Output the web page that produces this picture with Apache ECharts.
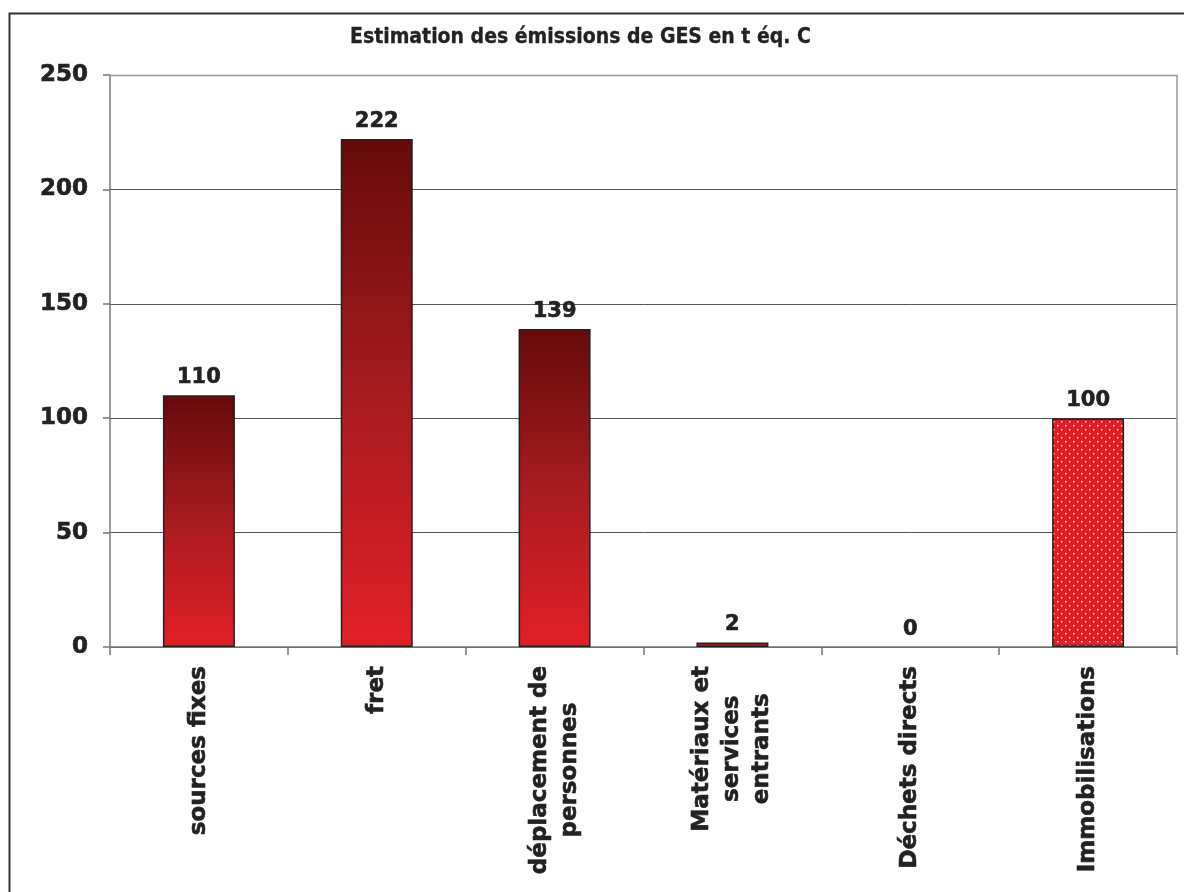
<!DOCTYPE html>
<html>
<head>
<meta charset="utf-8">
<script src="https://cdn.jsdelivr.net/npm/echarts@6/dist/echarts.min.js"></script>
<style>
  html, body { margin: 0; padding: 0; background: #fff; }
  #chart { width: 1184px; height: 892px; }
</style>
</head>
<body>
<div id="chart"></div>
<script>
// Emission categories and estimated values (t éq. C)
const categories = [
  'sources fixes',
  'fret',
  'déplacement de\npersonnes',
  'Matériaux et\nservices\nentrants',
  'Déchets directs',
  'Immobilisations'
];
const emissions = [110, 222, 139, 2, 0, 100];
const patternedCategory = 'Immobilisations';
const yTicks = [0, 50, 100, 150, 200, 250];

const titleText = 'Estimation des émissions de GES en t éq. C';
const FONT = '"DejaVu Sans", Verdana, sans-serif';
const INK = '#222';

// Dotted red fill tile
function dotPattern() {
  const c = document.createElement('canvas');
  c.width = 8; c.height = 8;
  const g = c.getContext('2d');
  g.fillStyle = '#e31e26';
  g.fillRect(0, 0, 8, 8);
  g.fillStyle = 'rgba(255,255,255,0.9)';
  g.fillRect(1, 1, 1.5, 1.5);
  g.fillRect(5, 5, 1.5, 1.5);
  return c;
}

const gradientFill = new echarts.graphic.LinearGradient(0, 0, 0, 1, [
  { offset: 0, color: '#650a0c' },
  { offset: 0.5, color: '#a71b20' },
  { offset: 1, color: '#e31f27' }
]);

const barData = emissions.map((v, i) => ({
  value: v,
  itemStyle: {
    color: categories[i] === patternedCategory
      ? { image: dotPattern(), repeat: 'repeat' }
      : gradientFill,
    borderColor: '#222',
    borderWidth: v === 0 ? 0 : 1.5
  }
}));

// heavy bold text
const heavy = { textBorderColor: INK, textBorderWidth: 0.6 };

const chart = echarts.init(document.getElementById('chart'), null, { renderer: 'canvas' });

chart.setOption({
  animation: false,
  backgroundColor: '#fff',
  title: {
    text: titleText,
    left: 345,
    top: 22,
    textStyle: {
      fontFamily: '"DejaVu Sans Condensed", "DejaVu Sans", sans-serif',
      fontWeight: 'bold',
      fontSize: 21,
      color: INK,
      textBorderColor: INK,
      textBorderWidth: 0.3
    }
  },
  grid: { left: 110, right: 7, top: 75, bottom: 245 },
  xAxis: {
    type: 'category',
    data: categories,
    axisLine: { lineStyle: { color: '#777', width: 1.5 } },
    axisTick: { show: true, length: 8, lineStyle: { color: '#777', width: 1.5 } },
    axisLabel: {
      rotate: 90,
      margin: 19,
      interval: 0,
      formatter: v => v.split('\n').map(l => '{c|' + l + '}').join('\n'),
      rich: {
        c: Object.assign({
          align: 'center',
          fontFamily: FONT,
          fontWeight: 'bold',
          fontSize: 23,
          lineHeight: 30,
          color: INK
        }, heavy)
      }
    }
  },
  yAxis: {
    type: 'value',
    min: 0,
    max: 250,
    interval: 50,
    axisLine: { show: true, lineStyle: { color: '#777', width: 1.5 } },
    axisTick: { show: true, length: 7, lineStyle: { color: '#777', width: 1.5 } },
    axisLabel: Object.assign({
      margin: 22,
      fontFamily: FONT,
      fontWeight: 'bold',
      fontSize: 23,
      color: INK,
      formatter: v => (yTicks.includes(v) ? String(v) : '')
    }, heavy),
    splitLine: { show: true, lineStyle: { color: '#555', width: 1 } }
  },
  series: [{
    type: 'bar',
    data: barData,
    barWidth: 72,
    label: Object.assign({
      show: true,
      position: 'top',
      distance: 7,
      fontFamily: FONT,
      fontWeight: 'bold',
      fontSize: 21,
      color: INK
    }, heavy)
  }],
  graphic: [
    // outer chart frame (left and top edges)
    {
      type: 'polyline',
      z: 100,
      shape: { points: [[9.5, 900], [9.5, 13.5], [1200, 13.5]] },
      style: { stroke: '#333', lineWidth: 2, fill: null }
    },
    // plot area frame (top and right edges)
    {
      type: 'polyline',
      z: 100,
      shape: { points: [[110, 75.5], [1177, 75.5], [1177, 647]] },
      style: { stroke: '#999', lineWidth: 1.5, fill: null }
    }
  ]
});
</script>
</body>
</html>
